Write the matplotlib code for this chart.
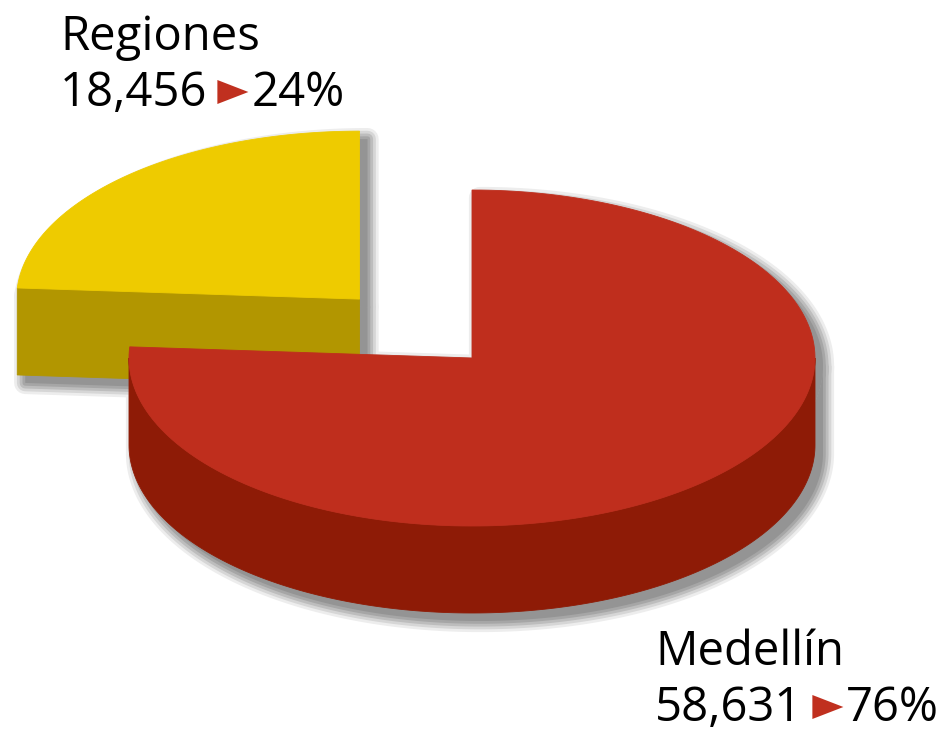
import numpy as np
import matplotlib
matplotlib.use("Agg")
import matplotlib.pyplot as plt
from matplotlib.patches import Polygon

# ---- data ----
categories = ["Medellín", "Regiones"]
values = [58631, 18456]
percents = [76, 24]
top_colors = ["#BF2E1D", "#EECB00"]
side_colors = ["#8E1B06", "#B29600"]
explode = [0.0, 0.48]

W, H = 951, 731
fig = plt.figure(figsize=(W / 100, H / 100), dpi=100)
ax = fig.add_axes([0, 0, 1, 1])
ax.set_xlim(0, W)
ax.set_ylim(H, 0)
ax.axis("off")

# pie geometry (pixel space)
CX, CY = 472, 358
A, B = 343, 168
DEPTH = 87

total = sum(values)
fracs = [v / total for v in values]
th_y0 = 90.0
th_y1 = 90.0 + 360.0 * fracs[1]
angles = [(th_y1, 450.0), (th_y0, th_y1)]


def pt(cx, cy, th, dy=0.0):
    t = np.deg2rad(th)
    return (cx + A * np.cos(t), cy - B * np.sin(t) + dy)


def arc(cx, cy, t0, t1, dy=0.0, n=200):
    ts = np.linspace(t0, t1, n)
    return [pt(cx, cy, t, dy) for t in ts]


def slice_geom(i):
    t0, t1 = angles[i]
    mid = np.deg2rad((t0 + t1) / 2)
    cx = CX + explode[i] * A * np.cos(mid)
    cy = CY - explode[i] * B * np.sin(mid)
    top = [(cx, cy)] + arc(cx, cy, t0, t1)
    sides = []
    for k in (0, 360):
        lo = max(t0, 180 + k)
        hi = min(t1, 360 + k)
        if hi > lo:
            up = arc(cx, cy, lo, hi)
            dn = arc(cx, cy, lo, hi, DEPTH)[::-1]
            sides.append(up + dn)
    for th, sgn in ((t0, -1), (t1, 1)):
        nth = np.deg2rad(th + sgn * 90)
        if np.sin(nth) < -0.05:
            p = pt(cx, cy, th)
            sides.append([(cx, cy), p, (p[0], p[1] + DEPTH), (cx, cy + DEPTH)])
    return top, sides


geoms = [slice_geom(i) for i in range(len(values))]

# ---- soft drop shadow ----
off = 8
layers = [(16, 0.93), (12, 0.84), (8, 0.74), (4, 0.65), (0, 0.58)]
for lw, g in layers:
    col = (g, g, g)
    for top, sides in geoms:
        for poly in [top] + sides:
            pts = [(x + off, y + off) for x, y in poly]
            ax.add_patch(Polygon(pts, closed=True, facecolor=col, edgecolor=col,
                                 lw=lw, joinstyle="round", zorder=1))

# ---- slices: back (Regiones) first, then Medellín ----
for z, i in enumerate([1, 0]):
    top, sides = geoms[i]
    for s in sides:
        ax.add_patch(Polygon(s, closed=True, facecolor=side_colors[i],
                             edgecolor=side_colors[i], lw=0.6, zorder=2 + 2 * z))
    ax.add_patch(Polygon(top, closed=True, facecolor=top_colors[i],
                         edgecolor=top_colors[i], lw=0.6, zorder=3 + 2 * z))

# ---- labels ----
FONT = "Open Sans"
FS = 34
tri_col = "#C0301F"
label_pos = {1: (60, 50), 0: (655, 665)}
fig.canvas.draw()
renderer = fig.canvas.get_renderer()
for i in range(len(values)):
    x0, y0 = label_pos[i]
    ax.text(x0, y0, categories[i], fontsize=FS, family=FONT, color="black",
            ha="left", va="baseline", zorder=10)
    yb = y0 + 56
    t = ax.text(x0, yb, f"{values[i]:,}", fontsize=FS, family=FONT, color="black",
                ha="left", va="baseline", zorder=10)
    bb = t.get_window_extent(renderer=renderer)
    xe = bb.x1 * W / fig.bbox.width
    tx0 = xe + 10
    tri = [(tx0, yb - 26), (tx0 + 31, yb - 14), (tx0, yb - 2)]
    ax.add_patch(Polygon(tri, closed=True, facecolor=tri_col, edgecolor="none", zorder=10))
    ax.text(tx0 + 34, yb, f"{percents[i]}%", fontsize=FS, family=FONT, color="black",
            ha="left", va="baseline", zorder=10)

fig.savefig("out.png", dpi=100, facecolor="white")
